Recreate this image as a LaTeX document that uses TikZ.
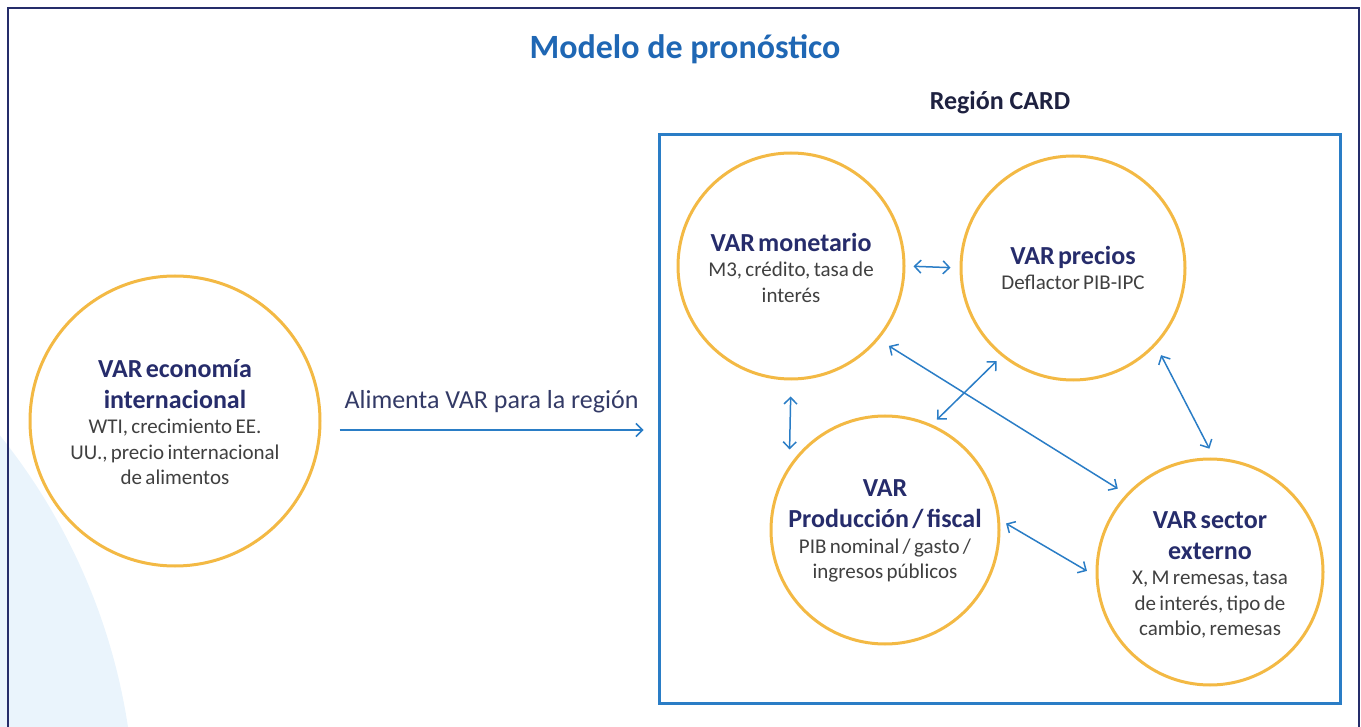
\documentclass[tikz,border=0pt]{standalone}
\usepackage{fontspec}
\setmainfont{Carlito}
\usetikzlibrary{arrows.meta,calc}
\definecolor{gold}{HTML}{F3B944}
\definecolor{arrblue}{HTML}{2A7DC6}
\definecolor{titleblue}{HTML}{1F67B4}
\definecolor{navy}{HTML}{262C6B}
\definecolor{framenavy}{HTML}{252D6A}
\definecolor{bodygray}{HTML}{404040}
\definecolor{lblcol}{HTML}{333A66}
\definecolor{bgblue}{HTML}{EAF4FC}
\definecolor{cardcol}{HTML}{1E2140}
\newcommand{\hd}{\fontsize{26}{31}\selectfont\bfseries\color{navy}}
\newcommand{\bd}{\fontsize{21}{25.5}\selectfont\mdseries\color{bodygray}}
\tikzset{
  varc/.style={circle, draw=gold, line width=3pt, fill=white, minimum size=#1, inner sep=0pt},
  txt/.style={align=center, text width=260pt, inner sep=0pt},
  arr/.style={draw=arrblue, line width=1.5pt, -{Straight Barb[length=6.5pt,width=13pt]}},
  darr/.style={draw=arrblue, line width=1.5pt, {Straight Barb[length=6.5pt,width=13pt]}-{Straight Barb[length=6.5pt,width=13pt]}}
}
\begin{document}
\begin{tikzpicture}[x=1pt,y=-1pt]
\useasboundingbox (0,0) rectangle (1361,727);
\begin{scope}
\clip (0,0) rectangle (1361,727);
\fill[bgblue] (-480,820) circle[radius=615pt];
\end{scope}
\draw[framenavy, line width=2.5pt] (8,727) -- (8,8) -- (1359,8) -- (1359,727);

\node[font=\fontsize{34}{40}\selectfont\bfseries, text=titleblue] (title) at (685,49) {Modelo de pronóstico};
\node[font=\fontsize{26}{30}\selectfont\bfseries, text=cardcol] (cardT) at (1000,103) {Región CARD};

\node[draw=arrblue, line width=3pt, minimum width=681pt, minimum height=568pt, inner sep=0pt] (card) at (999.5,419) {};

\node[varc=290pt] (eco) at (175,421) {};
\node[varc=226pt] (mon) at (791,266) {};
\node[varc=224pt] (pre) at (1073,268) {};
\node[varc=228pt] (pro) at (885,530) {};
\node[varc=226pt] (ext) at (1210,572) {};

\node[txt] (ecoT) at ([yshift=-1pt]eco) {\hd VAR economía\\internacional\par\bd WTI, crecimiento EE.\\UU., precio internacional\\de alimentos\par};
\node[txt] (monT) at ([yshift=-1.5pt]mon) {\hd VAR monetario\par\bd M3, crédito, tasa de\\interés\par};
\node[txt] (preT) at (pre) {\hd VAR precios\par\bd Deflactor PIB-IPC\par};
\node[txt] (proT) at ([yshift=-1pt]pro) {\hd VAR\\Producción / fiscal\par\bd PIB nominal / gasto /\\ingresos públicos\par};
\node[txt] (extT) at ([yshift=-3pt]ext) {\hd VAR sector\\externo\par\bd X, M remesas, tasa\\de interés, tipo de\\cambio, remesas\par};

\draw[arr] ([shift={(18pt,-9pt)}]eco.east) -- ([shift={(-14pt,-9pt)}]eco.east -| card.west)
  node[midway, above=13pt, font=\fontsize{26}{30}\selectfont, text=lblcol] (lbl) {Alimenta VAR para la región};

\draw[darr, shorten <=8pt, shorten >=9pt] (mon.0) -- (pre.180);
\draw[darr, shorten <=16pt, shorten >=16pt] (mon.-90) -- (pro.146);
\draw[darr, shorten <=7pt, shorten >=7pt] (pre.231) -- (pro.66);
\draw[darr, shorten <=12pt, shorten >=10pt] (mon.-40) -- (ext.137);
\draw[darr, shorten <=11pt, shorten >=10pt] (pre.-43) -- (ext.88);
\draw[darr, shorten <=7pt, shorten >=10pt] (pro.5) -- (ext.182);
\end{tikzpicture}
\end{document}
